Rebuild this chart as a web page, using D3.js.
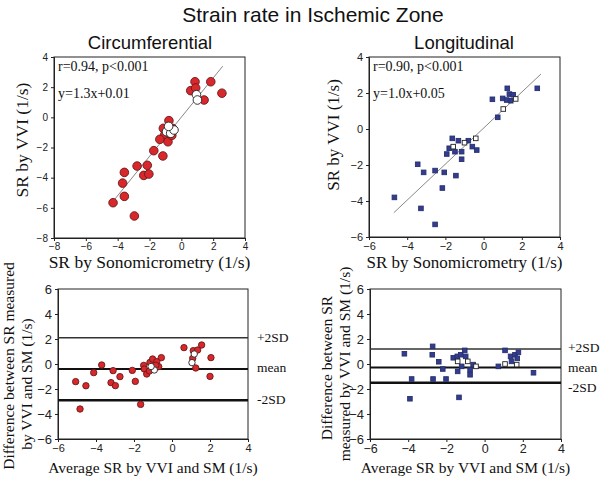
<!DOCTYPE html>
<html><head><meta charset="utf-8">
<script src="https://cdn.jsdelivr.net/npm/d3@7"></script>
<style>body{margin:0;background:#fff}svg{display:block}</style>
</head><body>
<svg id="c" width="600" height="478"></svg>
<script>
// ---- data ----
const circScatterFilled = [[0.86,2.36],[1.85,2.36],[0.59,1.77],[1.43,1.15],[2.55,1.6],[0.9,1.95],
 [-0.78,-0.22],[-1.13,-0.73],[-0.56,-0.73],[-1.05,-1.17],[-1.35,-1.46],[-0.84,-1.62],[-0.6,-1.2],
 [-1.73,-2.21],[-1.16,-2.56],[-2.78,-3.23],[-2.14,-3.18],[-2.36,-3.85],[-2.04,-3.76],[-3.58,-3.65],
 [-3.69,-4.36],[-3.58,-5.24],[-4.29,-5.66],[-2.95,-6.54]];
const circScatterOpen = [[0.95,1.5],[1.01,1.15],[-0.93,-0.95],[-0.67,-1.06],[-0.46,-0.84],[-0.8,-0.6]];
const longScatterFilled = [[2.81,2.26],[1.24,2.26],[1.35,1.94],[1.0,1.7],[1.42,1.57],[1.21,1.61],[1.55,1.9],
 [0.46,1.65],[0.74,0.65],[-0.8,-0.65],[-1.64,-0.52],[-1.32,-0.65],[-1.8,-1.07],[-1.5,-1.26],[-1.93,-1.39],
 [-1.15,-1.26],[-0.59,-0.98],[-0.36,-1.17],[-1.15,-1.68],[-3.45,-1.96],[-3.14,-2.41],[-2.54,-2.31],
 [-2.06,-2.41],[-1.45,-2.59],[-2.16,-3.28],[-4.67,-3.8],[-3.28,-4.41],[-2.54,-5.3]];
const longScatterOpen = [[1.68,1.67],[1.03,1.11],[-0.41,-0.52],[-1.0,-0.76],[-1.59,-0.98]];
const circBAFilled = [[-5.07,-1.41],[-4.84,-3.6],[-4.53,-1.74],[-4.12,-0.69],[-3.7,-0.08],[-3.21,-1.49],
 [-2.98,-1.73],[-3.1,-0.53],[-2.74,-1.01],[-2.09,-0.51],[-1.93,-1.39],[-1.65,-3.23],[-1.49,-0.11],
 [-1.46,-0.4],[-1.33,-0.8],[-1.16,0.13],[-1.02,0.4],[-0.8,0.19],[-0.56,0.51],[-0.7,-0.21],[-1.19,-0.56],
 [-0.85,-0.1],[0.63,1.31],[1.12,1.07],[1.35,1.12],[1.56,1.52],[1.09,0.45],[1.25,-0.32],[2.05,0.51],[2.0,-0.99]];
const circBAOpen = [[-0.93,-0.48],[-1.1,-0.2],[1.17,0.8],[1.05,0.11]];
const longBAFilled = [[-4.2,0.82],[-3.91,-2.78],[-3.82,-1.2],[-2.72,1.41],[-2.74,0.74],[-2.7,-1.2],[-2.4,0.18],
 [-2.19,-0.4],[-2.02,-1.2],[-1.64,0.5],[-1.43,0.61],[-1.41,-0.59],[-1.34,-2.67],[-1.25,0.74],[-1.2,-0.19],
 [-1.04,1.09],[-0.99,0.61],[-0.76,-0.46],[-0.76,-0.86],[-0.6,-0.05],[0.72,-0.19],[1.07,1.09],[1.36,0.61],
 [1.41,0.21],[1.59,0.74],[1.71,0.45],[1.77,0.93],[2.56,-0.7]];
const longBAOpen = [[-1.41,0.21],[-0.88,0.21],[-0.45,-0.19],[1.07,0.0],[1.68,-0.05]];
const circFit = {slope:1.3, intercept:0.01, from:-4.3, to:2.6};
const longFit = {slope:1.0, intercept:0.05, from:-4.7, to:3.0};
const circLimits = [2.1, -0.4, -2.9];   // +2SD, mean, -2SD
const longLimits = [1.2, -0.27, -1.5];
const limitLabels = ["+2SD","mean","-2SD"];
const ticksA = [-8,-6,-4,-2,0,2,4];
const ticksB = [-6,-4,-2,0,2,4];
const ticksC = [-6,-4,-2,0,2,4,6];

const SANS = "'Liberation Sans', Arial, sans-serif";
const SERIF = "'Liberation Serif', 'Times New Roman', serif";
const svg = d3.select("#c");

svg.append("text").attr("x",313).attr("y",22).attr("text-anchor","middle")
  .attr("font-family",SANS).attr("font-size",21).attr("fill","#111").text("Strain rate in Ischemic Zone");
svg.append("text").attr("x",150).attr("y",49).attr("text-anchor","middle")
  .attr("font-family",SANS).attr("font-size",18.5).attr("fill","#111").text("Circumferential");
svg.append("text").attr("x",464).attr("y",49).attr("text-anchor","middle")
  .attr("font-family",SANS).attr("font-size",18.5).attr("fill","#111").text("Longitudinal");

function panel(o){
  const x = d3.scaleLinear().domain(o.xd).range(o.xr);
  const y = d3.scaleLinear().domain(o.yd).range(o.yr);
  const g = svg.append("g");
  // frame
  g.append("rect").attr("x",o.xr[0]).attr("y",o.yr[1]).attr("width",o.xr[1]-o.xr[0])
    .attr("height",o.yr[0]-o.yr[1]).attr("fill","none").attr("stroke","#222").attr("stroke-width",1);
  const xa = g.append("g").attr("transform",`translate(0,${o.yr[0]})`)
    .call(d3.axisBottom(x).tickValues(o.xt).tickSize(3).tickPadding(2).tickFormat(d3.format("d")));
  const ya = g.append("g").attr("transform",`translate(${o.xr[0]},0)`)
    .call(d3.axisLeft(y).tickValues(o.yt).tickSize(3).tickPadding(3).tickFormat(d3.format("d")));
  xa.selectAll("text").attr("font-family",SANS).attr("font-size",o.xfs).attr("fill","#222");
  ya.selectAll("text").attr("font-family",SANS).attr("font-size",o.yfs).attr("fill","#222");
  [xa,ya].forEach(a=>{a.select(".domain").attr("stroke","#222");a.selectAll("line").attr("stroke","#222");});
  // fit line
  if(o.fit){
    const f=o.fit;
    g.append("line").attr("x1",x(f.from)).attr("y1",y(f.slope*f.from+f.intercept))
      .attr("x2",x(f.to)).attr("y2",y(f.slope*f.to+f.intercept)).attr("stroke","#888").attr("stroke-width",1);
  }
  if(o.limits){
    const widths=[1.3,2,2.4];
    o.limits.forEach((v,i)=>{
      g.append("line").attr("x1",o.xr[0]).attr("x2",o.xr[1]).attr("y1",y(v)).attr("y2",y(v))
        .attr("stroke",i===0?"#333":"#111").attr("stroke-width",widths[i]);
      g.append("text").attr("x",o.lx).attr("y",o.ly[i]).attr("font-family",SERIF).attr("font-size",13.5)
        .attr("fill","#111").text(limitLabels[i]);
    });
  }
  // points
  const sym = o.shape==="circle";
  function draw(data, fill, stroke){
    if(sym){
      g.selectAll(null).data(data).enter().append("circle")
        .attr("cx",d=>x(d[0])).attr("cy",d=>y(d[1])).attr("r",o.size)
        .attr("fill",fill).attr("stroke",stroke).attr("stroke-width",0.9);
    } else {
      g.selectAll(null).data(data).enter().append("rect")
        .attr("x",d=>x(d[0])-o.size).attr("y",d=>y(d[1])-o.size).attr("width",o.size*2).attr("height",o.size*2)
        .attr("fill",fill).attr("stroke",stroke).attr("stroke-width",0.9);
    }
  }
  draw(o.filled, o.color, o.edge);
  draw(o.open, "#fff", "#222");
  // annotations
  if(o.notes){
    o.notes.forEach((t,i)=>g.append("text").attr("x",o.xr[0]+4).attr("y",o.yr[1]+14+i*27)
      .attr("font-family",SERIF).attr("font-size",14).attr("fill","#111").text(t));
  }
  // axis titles
  g.append("text").attr("x",(o.xr[0]+o.xr[1])/2).attr("y",o.xtY).attr("text-anchor","middle")
    .attr("font-family",SERIF).attr("font-size",o.tfs).attr("fill","#111").text(o.xtitle);
  o.ytitle.forEach((t,i)=>{
    g.append("text").attr("transform",`translate(${o.ytX[i]},${o.ytC[i]}) rotate(-90)`).attr("text-anchor","middle")
      .attr("font-family",SERIF).attr("font-size",o.tfs).attr("fill","#111").text(t);
  });
}

panel({xd:[-8,4],yd:[-8,4],xr:[54,245],yr:[238,57],xt:ticksA,yt:ticksA,xfs:10,yfs:10,
  filled:circScatterFilled,open:circScatterOpen,shape:"circle",size:4.3,color:"#d8282c",edge:"#6a1a1a",
  fit:circFit,notes:["r=0.94, p<0.001","y=1.3x+0.01"],
  xtitle:"SR by Sonomicrometry (1/s)",xtY:268,tfs:17.5,ytitle:["SR by VVI (1/s)"],ytX:[28],ytC:[140]});
panel({xd:[-6,4],yd:[-6,4],xr:[369,560],yr:[237,57],xt:ticksB,yt:ticksB,xfs:11,yfs:11,
  filled:longScatterFilled,open:longScatterOpen,shape:"square",size:2.3,color:"#333d8f",edge:"#27306e",
  fit:longFit,notes:["r=0.90, p<0.001","y=1.0x+0.05"],
  xtitle:"SR by Sonomicrometry (1/s)",xtY:268,tfs:17,ytitle:["SR by VVI (1/s)"],ytX:[339],ytC:[135]});
panel({xd:[-6,4],yd:[-6,6],xr:[58,248],yr:[439,289],xt:ticksB,yt:ticksC,xfs:11,yfs:13,
  filled:circBAFilled,open:circBAOpen,shape:"circle",size:3.2,color:"#d8282c",edge:"#6a1a1a",
  limits:circLimits,lx:257,ly:[342,372,404],
  xtitle:"Average SR by VVI and SM (1/s)",xtY:473,tfs:15.5,
  ytitle:["Difference between SR measured","by VVI and SM (1/s)"],ytX:[14,32],ytC:[366,384]});
panel({xd:[-6,4],yd:[-6,6],xr:[370,561],yr:[439,289],xt:ticksB,yt:ticksC,xfs:12.5,yfs:13,
  filled:longBAFilled,open:longBAOpen,shape:"square",size:2.3,color:"#333d8f",edge:"#27306e",
  limits:longLimits,lx:568,ly:[352,372,392],
  xtitle:"Average SR by VVI and SM (1/s)",xtY:473,tfs:15.5,
  ytitle:["Difference between SR","measured by VVI and SM (1/s)"],ytX:[332,350],ytC:[368,364]});
</script>
</body></html>
